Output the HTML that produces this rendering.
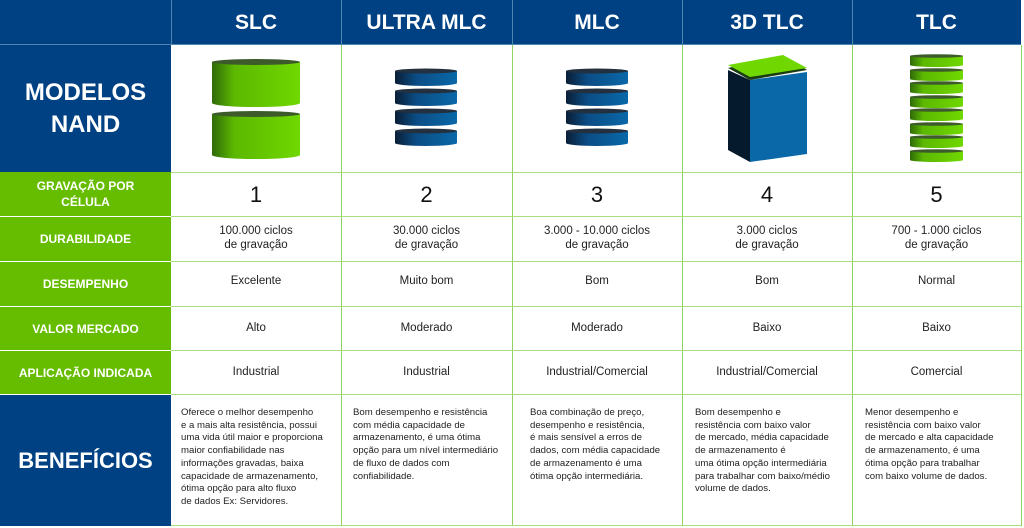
<!DOCTYPE html>
<html><head><meta charset="utf-8"><style>
*{margin:0;padding:0;box-sizing:border-box}
body{width:1024px;height:528px;background:#fff;position:relative;overflow:hidden;font-family:"Liberation Sans",sans-serif}
.c{position:absolute;display:flex;align-items:center;justify-content:center;text-align:center}
.h{background:#004183;color:#fff;font-weight:bold;font-size:21px}
.g{background:#66bd00;color:#fff;font-weight:bold;font-size:12px;line-height:16px}
.d{color:#222;font-size:11.5px;line-height:14px}
.n{color:#111;font-size:22px}
.b{position:absolute;font-size:9.6px;line-height:12.7px;color:#222;white-space:nowrap}
.vl{position:absolute;width:1px;background:#8fd460}
.hl{position:absolute;height:1px;background:#a8dd80}
</style></head><body>
<!-- header row -->
<div class="c h" style="left:0;top:0;width:1021px;height:45px"></div>
<div class="c h" style="left:171px;top:0;width:170px;height:45px">SLC</div>
<div class="c h" style="left:341px;top:0;width:171px;height:45px">ULTRA MLC</div>
<div class="c h" style="left:512px;top:0;width:170px;height:45px">MLC</div>
<div class="c h" style="left:682px;top:0;width:170px;height:45px">3D TLC</div>
<div class="c h" style="left:852px;top:0;width:169px;height:45px">TLC</div>
<div style="position:absolute;left:171px;top:0;width:1px;height:45px;background:#4a86b0"></div>
<div style="position:absolute;left:341px;top:0;width:1px;height:45px;background:#4a86b0"></div>
<div style="position:absolute;left:512px;top:0;width:1px;height:45px;background:#4a86b0"></div>
<div style="position:absolute;left:682px;top:0;width:1px;height:45px;background:#4a86b0"></div>
<div style="position:absolute;left:852px;top:0;width:1px;height:45px;background:#4a86b0"></div>
<div style="position:absolute;left:0;top:44px;width:1021px;height:1px;background:#4a86b0"></div>
<!-- left column -->
<div class="c h" style="left:0;top:45px;width:171px;height:127px;font-size:24px;line-height:32px">MODELOS<br>NAND</div>
<div class="c g" style="left:0;top:172px;width:171px;height:44px">GRAVAÇÃO POR<br>CÉLULA</div>
<div class="c g" style="left:0;top:217px;width:171px;height:44px">DURABILIDADE</div>
<div class="c g" style="left:0;top:262px;width:171px;height:44px">DESEMPENHO</div>
<div class="c g" style="left:0;top:307px;width:171px;height:43px">VALOR MERCADO</div>
<div class="c g" style="left:0;top:351px;width:171px;height:43px">APLICAÇÃO INDICADA</div>
<div class="c h" style="left:0;top:395px;width:171px;height:131px;font-size:22px">BENEFÍCIOS</div>
<!-- grid lines -->
<div class="vl" style="left:341px;top:45px;height:481px"></div>
<div class="vl" style="left:512px;top:45px;height:481px"></div>
<div class="vl" style="left:682px;top:45px;height:481px"></div>
<div class="vl" style="left:852px;top:45px;height:481px"></div>
<div class="vl" style="left:1021px;top:45px;height:481px"></div>
<div class="hl" style="left:171px;top:172px;width:850px"></div>
<div class="hl" style="left:171px;top:216px;width:850px"></div>
<div class="hl" style="left:171px;top:261px;width:850px"></div>
<div class="hl" style="left:171px;top:306px;width:850px"></div>
<div class="hl" style="left:171px;top:350px;width:850px"></div>
<div class="hl" style="left:171px;top:394px;width:850px"></div>
<div class="hl" style="left:171px;top:525px;width:850px"></div>
<!-- numbers -->
<div class="c n" style="left:171px;top:173px;width:170px;height:43px">1</div>
<div class="c n" style="left:341px;top:173px;width:171px;height:43px">2</div>
<div class="c n" style="left:512px;top:173px;width:170px;height:43px">3</div>
<div class="c n" style="left:682px;top:173px;width:170px;height:43px">4</div>
<div class="c n" style="left:852px;top:173px;width:169px;height:43px">5</div>
<!-- durability -->
<div class="c d" style="left:171px;top:217px;width:170px;height:42px">100.000 ciclos<br>de gravação</div>
<div class="c d" style="left:341px;top:217px;width:171px;height:42px">30.000 ciclos<br>de gravação</div>
<div class="c d" style="left:512px;top:217px;width:170px;height:42px">3.000 - 10.000 ciclos<br>de gravação</div>
<div class="c d" style="left:682px;top:217px;width:170px;height:42px">3.000 ciclos<br>de gravação</div>
<div class="c d" style="left:852px;top:217px;width:169px;height:42px">700 - 1.000 ciclos<br>de gravação</div>
<!-- desempenho -->
<div class="c d" style="left:171px;top:262px;width:170px;height:38px">Excelente</div>
<div class="c d" style="left:341px;top:262px;width:171px;height:38px">Muito bom</div>
<div class="c d" style="left:512px;top:262px;width:170px;height:38px">Bom</div>
<div class="c d" style="left:682px;top:262px;width:170px;height:38px">Bom</div>
<div class="c d" style="left:852px;top:262px;width:169px;height:38px">Normal</div>
<div class="c d" style="left:171px;top:307px;width:170px;height:42px">Alto</div>
<div class="c d" style="left:341px;top:307px;width:171px;height:42px">Moderado</div>
<div class="c d" style="left:512px;top:307px;width:170px;height:42px">Moderado</div>
<div class="c d" style="left:682px;top:307px;width:170px;height:42px">Baixo</div>
<div class="c d" style="left:852px;top:307px;width:169px;height:42px">Baixo</div>
<div class="c d" style="left:171px;top:351px;width:170px;height:42px">Industrial</div>
<div class="c d" style="left:341px;top:351px;width:171px;height:42px">Industrial</div>
<div class="c d" style="left:512px;top:351px;width:170px;height:42px">Industrial/Comercial</div>
<div class="c d" style="left:682px;top:351px;width:170px;height:42px">Industrial/Comercial</div>
<div class="c d" style="left:852px;top:351px;width:169px;height:42px">Comercial</div>
<!-- benefits -->
<div class="b" style="left:181px;top:407px">Oferece o melhor desempenho<br>e a mais alta resistência, possui<br>uma vida útil maior e proporciona<br>maior confiabilidade nas<br>informações gravadas, baixa<br>capacidade de armazenamento,<br>ótima opção para alto fluxo<br>de dados Ex: Servidores.</div>
<div class="b" style="left:353px;top:407px">Bom desempenho e resistência<br>com média capacidade de<br>armazenamento, é uma ótima<br>opção para um nível intermediário<br>de fluxo de dados com<br>confiabilidade.</div>
<div class="b" style="left:530px;top:407px">Boa combinação de preço,<br>desempenho e resistência,<br>é mais sensível a erros de<br>dados, com média capacidade<br>de armazenamento é uma<br>ótima opção intermediária.</div>
<div class="b" style="left:695px;top:407px">Bom desempenho e<br>resistência com baixo valor<br>de mercado, média capacidade<br>de armazenamento é<br>uma ótima opção intermediária<br>para trabalhar com baixo/médio<br>volume de dados.</div>
<div class="b" style="left:865px;top:407px">Menor desempenho e<br>resistência com baixo valor<br>de mercado e alta capacidade<br>de armazenamento, é uma<br>ótima opção para trabalhar<br>com baixo volume de dados.</div>
<!-- icons -->
<svg style="position:absolute;left:0;top:0" width="1024" height="528">
<defs>
<linearGradient id="gg" x1="0" x2="1"><stop offset="0" stop-color="#2f6a0a"/><stop offset="0.25" stop-color="#5cb800"/><stop offset="1" stop-color="#70d800"/></linearGradient>
<linearGradient id="bg" x1="0" x2="1"><stop offset="0" stop-color="#0a1e36"/><stop offset="0.35" stop-color="#0b4d85"/><stop offset="1" stop-color="#0a68a8"/></linearGradient>
</defs>
<g id="slc">
<path d="M212 62 V103 A44 4 0 0 0 300 103 V62 Z" fill="url(#gg)"/><ellipse cx="256" cy="62" rx="44" ry="3" fill="#3d5a2a"/>
<path d="M212 114 V155 A44 4 0 0 0 300 155 V114 Z" fill="url(#gg)"/><ellipse cx="256" cy="114" rx="44" ry="3" fill="#3d5a2a"/>
</g>
<g fill="url(#bg)">
<path d="M395 71 V83 A31 3 0 0 0 457 83 V71Z"/><path d="M395 91 V103 A31 3 0 0 0 457 103 V91Z"/><path d="M395 111 V123 A31 3 0 0 0 457 123 V111Z"/><path d="M395 131 V143 A31 3 0 0 0 457 143 V131Z"/>
<path d="M566 71 V83 A31 3 0 0 0 628 83 V71Z"/><path d="M566 91 V103 A31 3 0 0 0 628 103 V91Z"/><path d="M566 111 V123 A31 3 0 0 0 628 123 V111Z"/><path d="M566 131 V143 A31 3 0 0 0 628 143 V131Z"/>
</g>
<g fill="#23303f">
<ellipse cx="426" cy="71" rx="31" ry="2.5"/><ellipse cx="426" cy="91" rx="31" ry="2.5"/><ellipse cx="426" cy="111" rx="31" ry="2.5"/><ellipse cx="426" cy="131" rx="31" ry="2.5"/>
<ellipse cx="597" cy="71" rx="31" ry="2.5"/><ellipse cx="597" cy="91" rx="31" ry="2.5"/><ellipse cx="597" cy="111" rx="31" ry="2.5"/><ellipse cx="597" cy="131" rx="31" ry="2.5"/>
</g>
<polygon points="728,70 750,80 750,162 728,150" fill="#061a2e"/>
<polygon points="750,80 807,72 807,154 750,162" fill="#0a68a8"/>
<polygon points="728,68 783,56 807,70 750,80" fill="#1a3b14"/>
<polygon points="728,65 783,55 807,68 750,77" fill="#70d800"/>
<g>
<path d="M910 56 V65 A26.5 2 0 0 0 963 65 V56Z" fill="url(#gg)"/><ellipse cx="936.5" cy="56" rx="26.5" ry="1.8" fill="#3d5a2a"/>
<path d="M910 70 V79 A26.5 2 0 0 0 963 79 V70Z" fill="url(#gg)"/><ellipse cx="936.5" cy="70" rx="26.5" ry="1.8" fill="#3d5a2a"/>
<path d="M910 83 V92 A26.5 2 0 0 0 963 92 V83Z" fill="url(#gg)"/><ellipse cx="936.5" cy="83" rx="26.5" ry="1.8" fill="#3d5a2a"/>
<path d="M910 97 V106 A26.5 2 0 0 0 963 106 V97Z" fill="url(#gg)"/><ellipse cx="936.5" cy="97" rx="26.5" ry="1.8" fill="#3d5a2a"/>
<path d="M910 110 V119 A26.5 2 0 0 0 963 119 V110Z" fill="url(#gg)"/><ellipse cx="936.5" cy="110" rx="26.5" ry="1.8" fill="#3d5a2a"/>
<path d="M910 124 V133 A26.5 2 0 0 0 963 133 V124Z" fill="url(#gg)"/><ellipse cx="936.5" cy="124" rx="26.5" ry="1.8" fill="#3d5a2a"/>
<path d="M910 137 V146 A26.5 2 0 0 0 963 146 V137Z" fill="url(#gg)"/><ellipse cx="936.5" cy="137" rx="26.5" ry="1.8" fill="#3d5a2a"/>
<path d="M910 151 V160 A26.5 2 0 0 0 963 160 V151Z" fill="url(#gg)"/><ellipse cx="936.5" cy="151" rx="26.5" ry="1.8" fill="#3d5a2a"/>
</g>
</svg>
</body></html>
